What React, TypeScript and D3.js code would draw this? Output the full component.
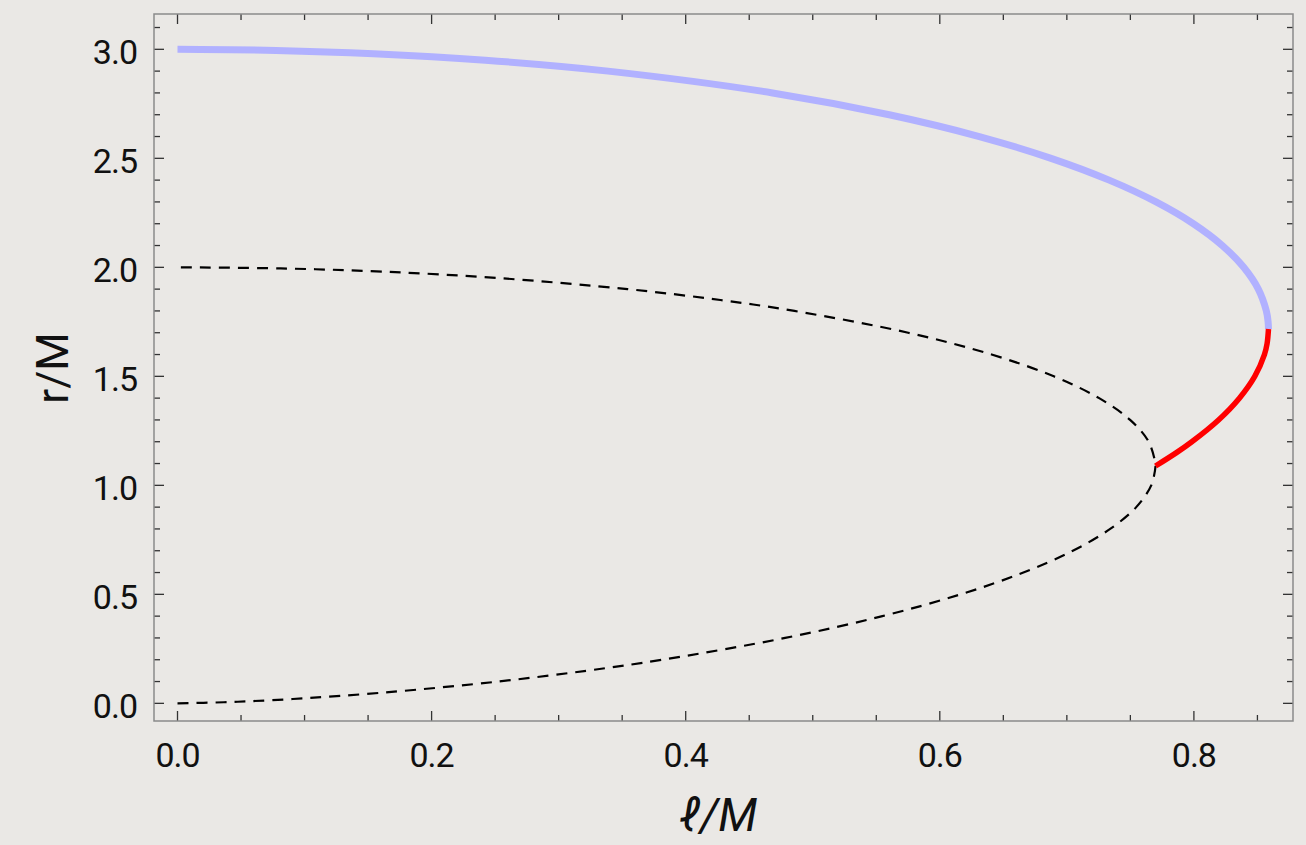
import React, { useEffect, useRef } from "react";
import * as d3 from "d3";

// horizon curve (dashed), r/M and ℓ/M, inner branch up to outer branch
const horizonR = [0, 0.005, 0.01, 0.02, 0.05, 0.1, 0.15, 0.2, 0.3, 0.4, 0.5, 0.6, 0.7, 0.8, 0.9, 1.0, 1.0887, 1.1, 1.2, 1.3, 1.4, 1.5, 1.6, 1.7, 1.8, 1.85, 1.9, 1.95, 1.98, 1.995, 2.0];
const horizonL = [0, 0.0365, 0.0576, 0.0907, 0.1635, 0.2524, 0.3225, 0.3817, 0.4783, 0.5548, 0.6164, 0.6658, 0.7047, 0.7341, 0.7546, 0.7664, 0.7698, 0.7697, 0.7644, 0.7498, 0.7254, 0.6897, 0.6408, 0.5751, 0.4856, 0.4273, 0.3542, 0.2544, 0.1624, 0.0813, 0];

// photon sphere, outer (blue) part
const blueR = [3.0, 2.995, 2.98, 2.95, 2.9, 2.8, 2.7, 2.6, 2.5, 2.4, 2.3, 2.2, 2.1, 2.0, 1.9, 1.8, 1.75, 1.717];
const blueL = [0, 0.0774, 0.1543, 0.2423, 0.3389, 0.4684, 0.5602, 0.6311, 0.6876, 0.7333, 0.7702, 0.7996, 0.8224, 0.8392, 0.8507, 0.857, 0.8584, 0.8587];

// photon sphere, inner (red) part
const redR = [1.717, 1.65, 1.6, 1.5, 1.4, 1.3, 1.2, 1.15, 1.0887];
const redL = [0.8587, 0.8576, 0.8555, 0.8479, 0.8358, 0.8194, 0.7984, 0.7863, 0.7698];

const xTicks = [0, 0.2, 0.4, 0.6, 0.8];
const yTicks = [0, 0.5, 1.0, 1.5, 2.0, 2.5, 3.0];

const W = 1306, H = 845;

export default function App() {
  const ref = useRef<SVGSVGElement>(null);

  useEffect(() => {
    const svg = d3.select(ref.current);
    svg.selectAll("*").remove();

    const left = 154, right = 1293, top = 14, bottom = 721;
    const x = d3.scaleLinear().domain([-0.0185, 0.878]).range([left, right]);
    const y = d3.scaleLinear().domain([-0.081, 3.162]).range([bottom, top]);

    // background
    svg.append("rect").attr("width", W).attr("height", H).attr("fill", "#eae8e5");

    const font = "Roboto, 'Open Sans', sans-serif";

    // minor / major ticks on all four sides
    const xMinor = d3.range(0, 0.851, 0.05);
    const yMinor = d3.range(0, 3.151, 0.1);
    const isMajorX = (v: number) => Math.abs(v * 5 - Math.round(v * 5)) < 1e-6;
    const isMajorY = (v: number) => Math.abs(v * 2 - Math.round(v * 2)) < 1e-6;
    const ticks = svg.append("g").attr("stroke", "#333").attr("stroke-width", 1.3);

    xMinor.forEach((v) => {
      const len = isMajorX(v) ? 10 : 6;
      ticks.append("line").attr("x1", x(v)).attr("x2", x(v)).attr("y1", bottom).attr("y2", bottom - len);
      ticks.append("line").attr("x1", x(v)).attr("x2", x(v)).attr("y1", top).attr("y2", top + len);
    });
    yMinor.forEach((v) => {
      const len = isMajorY(v) ? 10 : 6;
      ticks.append("line").attr("y1", y(v)).attr("y2", y(v)).attr("x1", left).attr("x2", left + len);
      ticks.append("line").attr("y1", y(v)).attr("y2", y(v)).attr("x1", right).attr("x2", right - len);
    });

    // frame
    svg.append("rect")
      .attr("x", left).attr("y", top)
      .attr("width", right - left).attr("height", bottom - top)
      .attr("fill", "none").attr("stroke", "#8a8a8a").attr("stroke-width", 1.5);

    // tick labels
    svg.selectAll(".xlab").data(xTicks).join("text")
      .attr("class", "xlab")
      .attr("x", (d) => x(d))
      .attr("y", 767)
      .attr("text-anchor", "middle")
      .style("font-family", font).style("font-size", "34px").style("letter-spacing", "-1px")
      .attr("fill", "#111")
      .text((d) => d.toFixed(1));

    svg.selectAll(".ylab").data(yTicks).join("text")
      .attr("class", "ylab")
      .attr("x", 137)
      .attr("y", (d) => y(d) + 15)
      .attr("text-anchor", "end")
      .style("font-family", font).style("font-size", "34px").style("letter-spacing", "-1px")
      .attr("fill", "#111")
      .text((d) => d.toFixed(1));

    // axis titles
    svg.append("text")
      .attr("transform", `translate(68,368) rotate(-90)`)
      .attr("text-anchor", "middle")
      .style("font-family", font).style("font-size", "44px")
      .attr("fill", "#111")
      .text("r/M");

    svg.append("text")
      .attr("x", 718).attr("y", 831)
      .attr("text-anchor", "middle")
      .style("font-family", font).style("font-size", "46px").style("font-style", "italic")
      .attr("fill", "#111")
      .text("ℓ/M");

    const line = d3.line<[number, number]>()
      .x((d) => x(d[0]))
      .y((d) => y(d[1]))
      .curve(d3.curveCatmullRom.alpha(0.5));

    const zip = (ls: number[], rs: number[]) => ls.map((l, i) => [l, rs[i]] as [number, number]);

    // horizon (dashed)
    svg.append("path")
      .attr("d", line(zip(horizonL, horizonR)))
      .attr("fill", "none").attr("stroke", "#000")
      .attr("stroke-width", 2.2).attr("stroke-dasharray", "11 8");

    // photon sphere
    svg.append("path")
      .attr("d", line(zip(blueL, blueR)))
      .attr("fill", "none").attr("stroke", "#b1b1ff")
      .attr("stroke-width", 7);

    svg.append("path")
      .attr("d", line(zip(redL, redR)))
      .attr("fill", "none").attr("stroke", "#ff0000")
      .attr("stroke-width", 5.5);
  }, []);

  return (
    <svg
      ref={ref}
      width={W}
      height={H}
      style={{ position: "absolute", left: 0, top: 0, display: "block" }}
    />
  );
}
